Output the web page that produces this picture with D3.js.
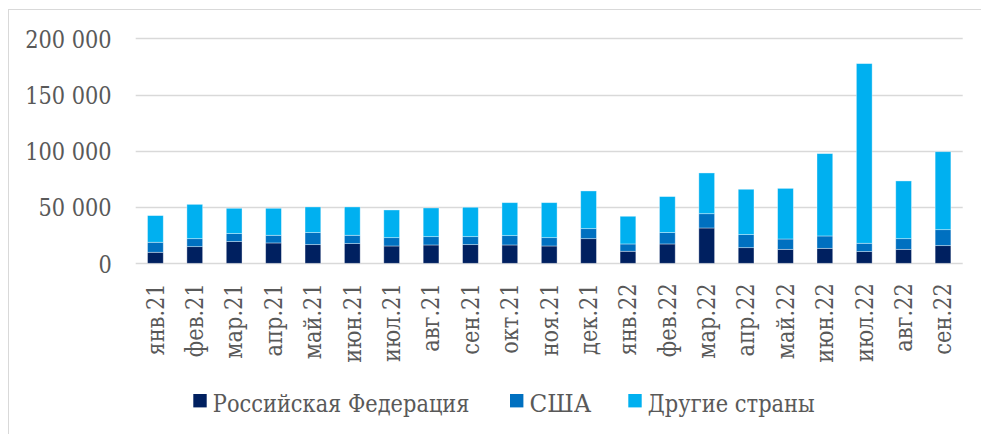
<!DOCTYPE html>
<html>
<head>
<meta charset="utf-8">
<script src="https://cdn.jsdelivr.net/npm/d3@7"></script>
<style>
  html, body { margin: 0; padding: 0; background: #fff; }
  svg { display: block; }
</style>
</head>
<body>
<svg id="chart" width="981" height="434"></svg>
<script>
const months = ["янв.21","фев.21","мар.21","апр.21","май.21","июн.21","июл.21","авг.21","сен.21","окт.21","ноя.21","дек.21","янв.22","фев.22","мар.22","апр.22","май.22","июн.22","июл.22","авг.22","сен.22"];
const russia = [9800,14800,19300,18100,16600,17500,15400,16300,16600,16300,15400,21900,10700,17200,31400,13900,12400,13300,10400,12400,15700];
const usa    = [8900,7100,7100,6800,10700,7400,7400,7400,7100,8300,7400,8900,6500,10100,12700,11600,9200,11000,7400,9500,14200];
const other  = [23700,30500,22500,24000,22800,25200,24600,25500,26100,29300,31100,33500,24600,32000,36200,40300,45000,73200,159700,51300,69300];
const seriesNames = ["Российская Федерация","США","Другие страны"];
const seriesColors = ["#002060","#0070C0","#00B0F0"];
const yTicks = [0,50000,100000,150000,200000];

const FONT = "'DejaVu Serif', serif";
const FS = 25;
const svg = d3.select("#chart");

svg.append("rect")
  .attr("x", 8.5).attr("y", 9.5)
  .attr("width", 1100).attr("height", 600)
  .attr("fill", "none").attr("stroke", "#d9d9d9").attr("stroke-width", 1);

const x = d3.scaleBand().domain(months).range([135.7, 962.7]).paddingInner(0.6).paddingOuter(0.3);
const y = d3.scaleLinear().domain([0, 200000]).range([263.3, 38.3]);

const fmt = v => d3.format(",")(v).replace(/,/g, " ");

svg.append("g").selectAll("line").data(yTicks).join("line")
  .attr("x1", 135.7).attr("x2", 962.7)
  .attr("y1", d => Math.round(y(d)) + 0.5).attr("y2", d => Math.round(y(d)) + 0.5)
  .attr("stroke", "#d9d9d9").attr("stroke-width", 1.3);

const allText = [];

const yl = svg.append("g").selectAll("text").data(yTicks).join("text")
  .attr("x", 111.7).attr("y", d => y(d) + 9.3)
  .attr("text-anchor", "end")
  .text(fmt);
allText.push(yl);

const table = months.map((m, i) => ({ month: m, s0: russia[i], s1: usa[i], s2: other[i] }));
const stack = d3.stack().keys(["s0","s1","s2"])(table);

svg.append("g").selectAll("g").data(stack).join("g")
  .attr("fill", (d, i) => seriesColors[i])
  .selectAll("rect").data(d => d).join("rect")
  .attr("x", d => x(d.data.month))
  .attr("width", x.bandwidth())
  .attr("y", d => y(d[1]))
  .attr("height", d => y(d[0]) - y(d[1]))
  .attr("stroke", "rgba(255,255,255,0.45)")
  .attr("stroke-width", 0.8);

const xl = svg.append("g").selectAll("text").data(months).join("text")
  .attr("transform", d => `translate(${x(d) + x.bandwidth() / 2},283.3) rotate(-90)`)
  .attr("x", 0).attr("y", 8.3)
  .attr("text-anchor", "end")
  .text(d => d);
allText.push(xl);

const legendX = [193.3, 510, 628.3];
const lg = svg.append("g");
seriesNames.forEach((name, i) => {
  lg.append("rect")
    .attr("x", legendX[i]).attr("y", 394)
    .attr("width", 13.4).attr("height", 13.4)
    .attr("fill", seriesColors[i]);
});
const lt = lg.selectAll("text.leg").data(seriesNames).join("text")
  .attr("class", "leg")
  .attr("x", (d, i) => legendX[i] + 19.5).attr("y", 411.7)
  .text(d => d);
allText.push(lt);

allText.forEach(sel => sel.attr("font-family", FONT).attr("font-size", FS).attr("fill", "#595959"));

// condense the serif face to Times-like widths (reference legend text is ~257px wide)
const k = 256.7 / lt.node().getComputedTextLength();
allText.forEach(sel => sel.each(function () {
  const w = this.getComputedTextLength();
  d3.select(this).attr("textLength", w * k).attr("lengthAdjust", "spacingAndGlyphs");
}));
// legend labels fitted to the reference's measured extents
const legendWidths = [256.7, 61.7, 167];
lt.attr("textLength", (d, i) => legendWidths[i]);
</script>
</body>
</html>
